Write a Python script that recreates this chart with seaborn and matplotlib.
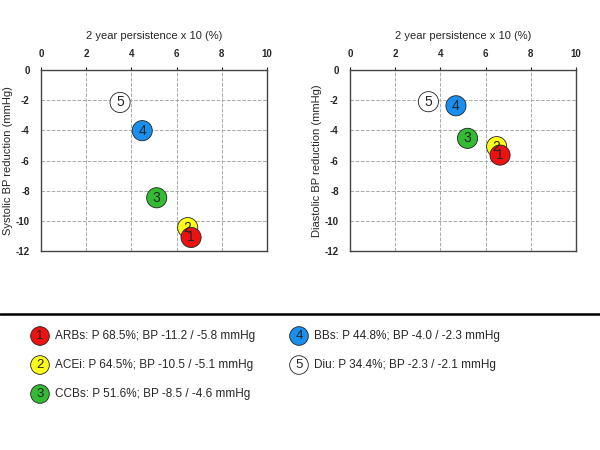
import pandas as pd
import matplotlib.pyplot as plt
import seaborn as sns

# values
labels = ['1', '2', '3', '4', '5']
classes = ['ARBs', 'ACEi', 'CCBs', 'BBs', 'Diu']
persistence = [68.5, 64.5, 51.6, 44.8, 34.4]
bp_text = ['-11.2 / -5.8', '-10.5 / -5.1', '-8.5 / -4.6', '-4.0 / -2.3', '-2.3 / -2.1']
sys_x = [6.64, 6.49, 5.12, 4.48, 3.50]
sys_y = [-11.1, -10.45, -8.47, -4.02, -2.15]
dia_x = [6.64, 6.49, 5.20, 4.69, 3.47]
dia_y = [-5.64, -5.08, -4.53, -2.37, -2.10]
colors = ['#ee1111', '#ffff1a', '#33bb33', '#1a8ff0', '#ffffff']

sns.set_style('white')
plt.rcParams['font.family'] = ['Liberation Sans', 'DejaVu Sans']
plt.rcParams['axes.unicode_minus'] = False

fig = plt.figure(figsize=(6, 4.5), dpi=100)

def draw_panel(ax, xs, ys, ylabel):
    df = pd.DataFrame({'x': xs, 'y': ys, 'label': labels})
    # draw back to front so 1 sits on top of 2
    df = df.iloc[::-1]
    sns.scatterplot(data=df, x='x', y='y', hue='label', palette=dict(zip(labels, colors)),
                    s=210, edgecolor='#222222', linewidth=0.6, legend=False, ax=ax, zorder=3)
    for _, r in df.iterrows():
        ax.text(r['x'], r['y'], r['label'], ha='center', va='center', fontsize=10, zorder=4)
    ax.set_xlim(0, 10)
    ax.set_ylim(-12, 0)
    ax.set_xticks(range(0, 11, 2))
    ax.set_yticks(range(-12, 1, 2))
    ax.xaxis.tick_top()
    ax.xaxis.set_label_position('top')
    ax.set_xlabel('2 year persistence x 10 (%)', fontsize=8, labelpad=7)
    ax.set_ylabel(ylabel, fontsize=8, labelpad=2)
    ax.tick_params(labelsize=7, length=2, pad=6)
    for t in ax.get_xticklabels() + ax.get_yticklabels():
        t.set_fontweight('bold')
    ax.grid(True, ls='--', color='#aaaaaa', lw=0.7)
    for sp in ax.spines.values():
        sp.set_color('#444444')
        sp.set_linewidth(1.0)

ax1 = fig.add_axes([0.0683, 0.4422, 0.3767, 0.4022])
draw_panel(ax1, sys_x, sys_y, 'Systolic BP reduction (mmHg)')
ax2 = fig.add_axes([0.5833, 0.4422, 0.3767, 0.4022])
draw_panel(ax2, dia_x, dia_y, 'Diastolic BP reduction (mmHg)')

# separator line
fig.add_artist(plt.Line2D([0, 1], [1 - 314 / 450] * 2, color='black', lw=1.8))

# custom legend below
leg = fig.add_axes([0, 0, 1, 1 - 318 / 450])
pos = [(40, 18), (40, 47), (40, 76), (299, 18), (299, 47)]
leg_df = pd.DataFrame({'x': [p[0] for p in pos], 'y': [p[1] for p in pos], 'label': labels})
sns.scatterplot(data=leg_df, x='x', y='y', hue='label', palette=dict(zip(labels, colors)),
                s=180, edgecolor='#222222', linewidth=0.6, legend=False, ax=leg)
for (px, py), lab, cls, p, bp in zip(pos, labels, classes, persistence, bp_text):
    leg.text(px, py, lab, ha='center', va='center', fontsize=9.5)
    leg.text(px + 15, py, f'{cls}: P {p}%; BP {bp} mmHg', ha='left', va='center', fontsize=8.5)
leg.set_xlim(0, 600)
leg.set_ylim(132, 0)
leg.axis('off')

fig.savefig('out.png', dpi=100)
